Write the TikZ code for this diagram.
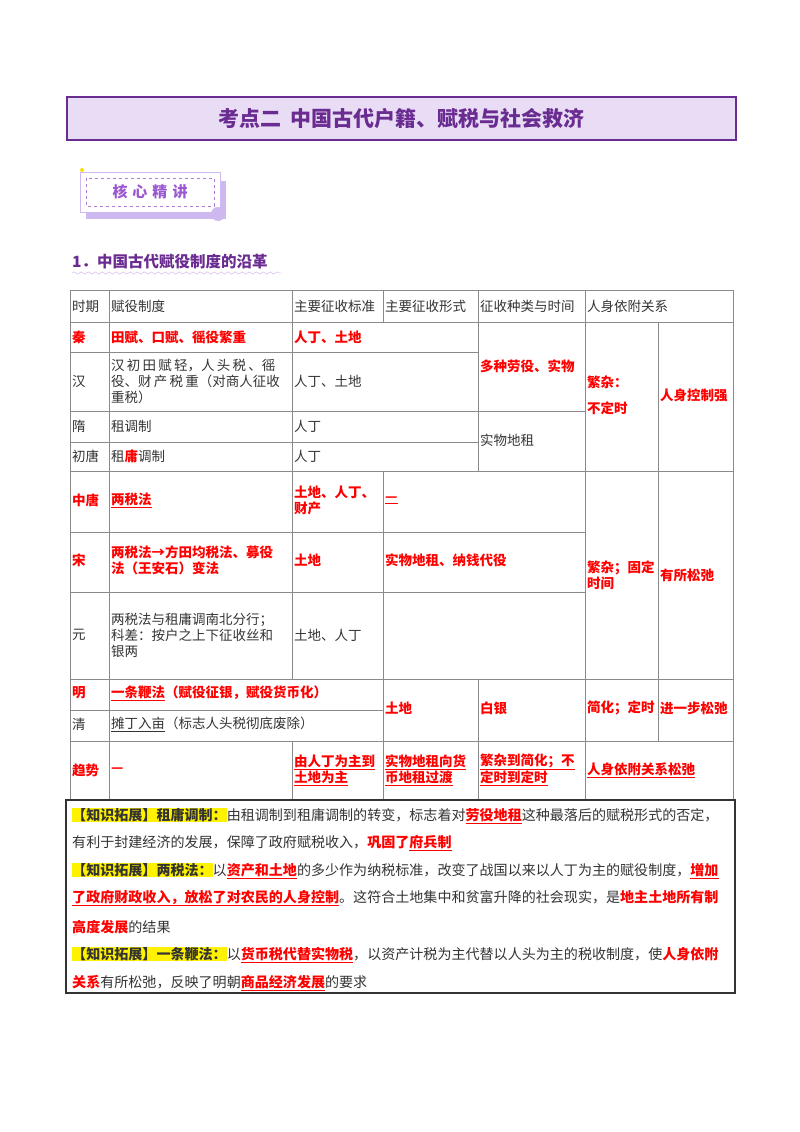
\documentclass[tikz,border=0pt]{standalone}
\usepackage{fontspec}
\setmainfont{Noto Sans CJK SC}
\usetikzlibrary{decorations.pathmorphing}
\XeTeXlinebreaklocale "zh"
\XeTeXlinebreakskip=0pt plus 1pt
\definecolor{tg}{HTML}{333333}
\definecolor{rd}{HTML}{FF0000}
\definecolor{pu}{HTML}{6A2C91}
\definecolor{lav}{HTML}{E8DDF5}
\definecolor{gl}{HTML}{8A8A8A}
\definecolor{bp}{HTML}{9B59D0}
\definecolor{bs}{HTML}{CDB8F0}
\newcommand\rb[1]{{\color{rd}\bfseries #1}}
\newcommand\ru[1]{{\color{rd}\bfseries\underline{#1}}}
\newcommand\hl[1]{{\setlength\fboxsep{0pt}\colorbox{yellow}{\bfseries #1}}}
\begin{document}
\begin{tikzpicture}[x=1pt,y=-1pt,
  cell/.style={anchor=west,inner sep=0pt,align=left,text=tg,font=\fontsize{13.5}{17}\selectfont},
  red/.style={text=rd,font=\fontsize{13.5}{17}\selectfont\bfseries},
  kline/.style={anchor=west,inner sep=0pt,text=tg,font=\fontsize{14.05}{17}\selectfont},
  grid/.style={draw=gl,line width=0.9pt}]
\useasboundingbox (0,0) rectangle (800,1132);
% title
\node[draw=pu,line width=2pt,fill=lav,minimum width=669pt,minimum height=43pt,anchor=north west] (title) at (66,96) {};
\node[text=pu,font=\fontsize{21}{24}\selectfont\bfseries] (tt) at (title.center) {考点二\ \ 中国古代户籍、赋税与社会救济};
% badge
\fill[bs] (86,181) rectangle (226,219);
\node[draw=bs,fill=white,line width=1pt,minimum width=140pt,minimum height=40pt,anchor=north west] (badge) at (80,172) {};
\draw[bp!80,dashed] (86,178) rectangle (214,206);
\node[text=bp,font=\fontsize{15}{18}\selectfont\bfseries] (bt) at (150,192) {核\,\,心\,\,精\,\,讲};
\fill[bs] (218,214) circle (7);
\fill[yellow!80!orange] (82,170) circle (2);
% subtitle
\node[anchor=west,inner sep=0pt,text=pu,font=\fontsize{15.5}{18}\selectfont\bfseries] (sub) at (72,262) {1．中国古代赋役制度的沿革};
\draw[bp!50,decorate,decoration={snake,amplitude=1.2pt,segment length=7pt}] (72,273) -- (282,273);
% table grid
\draw[grid] (70,290) rectangle (733,800);
\draw[grid] (70,322) -- (733,322);
\draw[grid] (70,352) -- (478,352);
\draw[grid] (70,411) -- (585,411);
\draw[grid] (70,442) -- (478,442);
\draw[grid] (70,471) -- (733,471);
\draw[grid] (70,532) -- (585,532);
\draw[grid] (70,592) -- (585,592);
\draw[grid] (70,679) -- (733,679);
\draw[grid] (70,710) -- (383,710);
\draw[grid] (70,741) -- (733,741);
\draw[grid] (109,290) -- (109,800);
\draw[grid] (292,290) -- (292,679);
\draw[grid] (292,741) -- (292,800);
\draw[grid] (383,290) -- (383,322);
\draw[grid] (383,471) -- (383,800);
\draw[grid] (478,290) -- (478,471);
\draw[grid] (478,679) -- (478,800);
\draw[grid] (585,290) -- (585,800);
\draw[grid] (658,322) -- (658,741);
% header
\node[cell] (h1) at (72,306) {时期};
\node[cell] (h2) at (111,306) {赋役制度};
\node[cell] (h3) at (294,306) {主要征收标准};
\node[cell] (h4) at (385,306) {主要征收形式};
\node[cell] (h5) at (480,306) {征收种类与时间};
\node[cell] (h6) at (587,306) {人身依附关系};
% qin
\node[cell,red] (q1) at (72,337) {秦};
\node[cell,red] (q2) at (111,337) {田赋、口赋、徭役繁重};
\node[cell,red] (q3) at (294,337) {人丁、土地};
\node[cell,red] (q4) at (480,366) {多种劳役、实物};
\node[cell,red,font=\fontsize{13.5}{26}\selectfont\bfseries] (q5) at (587,395) {繁杂：\\不定时};
\node[cell,red] (q6) at (660,395) {人身控制强};
% han
\node[cell] (a1) at (72,381) {汉};
\node[cell,font=\fontsize{13.5}{16}\selectfont] (a2) at (111,381) {汉\,初\,田\,赋\,轻，人\,头\,税\,、徭\\役、财\,产\,税\,重（对商人征收\\重税）};
\node[cell] (a3) at (294,381) {人丁、土地};
% sui
\node[cell] (s1) at (72,426) {隋};
\node[cell] (s2) at (111,426) {租调制};
\node[cell] (s3) at (294,426) {人丁};
\node[cell] (s4) at (480,440) {实物地租};
% chutang
\node[cell] (c1) at (72,456) {初唐};
\node[cell] (c2) at (111,456) {租\rb{庸}调制};
\node[cell] (c3) at (294,456) {人丁};
% zhongtang
\node[cell,red] (z1) at (72,500) {中唐};
\node[cell,red] (z2) at (111,500) {\underline{两税法}};
\node[cell,red,font=\fontsize{13.5}{16}\selectfont\bfseries] (z3) at (294,500) {土地、人丁、\\财产};
\node[cell,red] (z4) at (385,500) {\underline{—}};
\node[cell,red,font=\fontsize{13.5}{16}\selectfont\bfseries] (z5) at (587,575) {繁杂；固定\\时间};
\node[cell,red] (z6) at (660,575) {有所松弛};
% song
\node[cell,red] (g1) at (72,560) {宋};
\node[cell,red,font=\fontsize{13.5}{16}\selectfont\bfseries] (g2) at (111,560) {两税法→方田均税法、募役\\法（王安石）变法};
\node[cell,red] (g3) at (294,560) {土地};
\node[cell,red] (g4) at (385,560) {实物地租、纳钱代役};
% yuan
\node[cell] (y1) at (72,635) {元};
\node[cell,font=\fontsize{13.5}{16}\selectfont] (y2) at (111,635) {两税法与租庸调南北分行；\\科差：按户之上下征收丝和\\银两};
\node[cell] (y3) at (294,635) {土地、人丁};
% ming qing
\node[cell,red] (m1) at (72,693) {明};
\node[cell,red] (m2) at (111,693) {\underline{一条鞭法}（赋役征银，赋役货币化）};
\node[cell,red] (m3) at (385,708) {土地};
\node[cell,red] (m4) at (480,708) {白银};
\node[cell,red] (m5) at (587,708) {简化；定时};
\node[cell,red] (m6) at (660,708) {进一步松弛};
\node[cell] (k1) at (72,724) {清};
\node[cell] (k2) at (111,724) {\underline{摊丁入亩}（标志人头税彻底废除）};
% trend
\node[cell,red] (t1) at (72,770) {趋势};
\node[cell,red] (t2) at (111,770) {—};
\node[cell,red,font=\fontsize{13.5}{16}\selectfont\bfseries] (t3) at (294,770) {\underline{由人丁为主到}\\\underline{土地为主}};
\node[cell,red,font=\fontsize{13.5}{16}\selectfont\bfseries] (t4) at (385,770) {\underline{实物地租向货}\\\underline{币地租过渡}};
\node[cell,red,font=\fontsize{13.5}{16}\selectfont\bfseries] (t5) at (480,770) {\underline{繁杂到简化；不}\\\underline{定时到定时}};
\node[cell,red] (t6) at (587,770) {\underline{人身依附关系松弛}};
% knowledge box
\draw[line width=1.3pt,draw=black!80] (66,800) rectangle (735,993);
\node[kline] (l1) at (72,816) {\hl{【知识拓展】租庸调制：}由租调制到租庸调制的转变，标志着对\ru{劳役地租}这种最落后的赋税形式的否定，};
\node[kline] (l2) at (72,843) {有利于封建经济的发展，保障了政府赋税收入，\rb{巩固了}\ru{府兵制}};
\node[kline] (l3) at (72,871) {\hl{【知识拓展】两税法：}以\ru{资产和土地}的多少作为纳税标准，改变了战国以来以人丁为主的赋役制度，\ru{增加}};
\node[kline] (l4) at (72,898) {\ru{了政府财政收入，放松了对农民的人身控制}。这符合土地集中和贫富升降的社会现实，是\rb{地主土地所有制}};
\node[kline] (l5) at (72,927) {\rb{高度发展}的结果};
\node[kline] (l6) at (72,955) {\hl{【知识拓展】一条鞭法：}以\ru{货币税代替实物税}，以资产计税为主代替以人头为主的税收制度，使\rb{人身依附}};
\node[kline] (l7) at (72,983) {\rb{关系}有所松弛，反映了明朝\ru{商品经济发展}的要求};
\end{tikzpicture}
\end{document}
